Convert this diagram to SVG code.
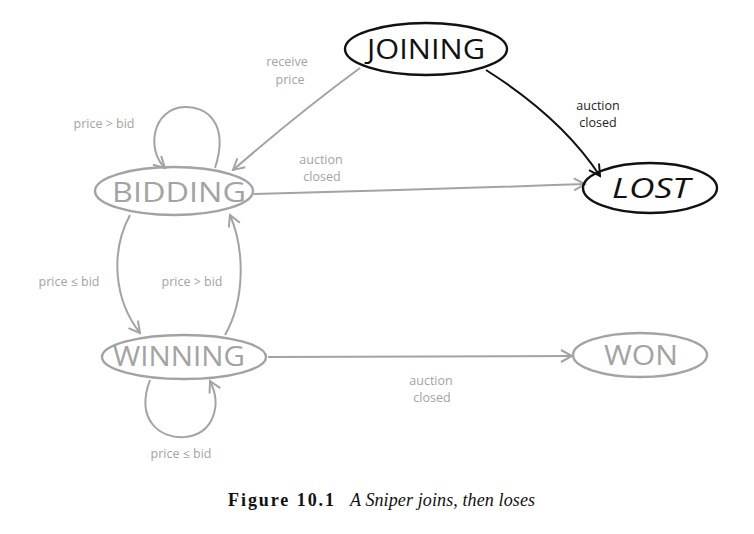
<svg xmlns="http://www.w3.org/2000/svg" width="754" height="534" viewBox="0 0 754 534">
<style>
.node{fill:none;stroke-width:2.4}
.gray{stroke:#a3a3a3}
.black{stroke:#111}
.nl{font-family:"Open Sans","DejaVu Sans",sans-serif;font-weight:400;font-size:28px;text-anchor:middle}
.nlg{fill:#a3a3a3}
.nlb{fill:#111}
.el{font-family:"Open Sans","DejaVu Sans",sans-serif;font-size:12.5px;fill:#a3a3a3;text-anchor:middle}
.elb{fill:#222}
.edge{fill:none;stroke-width:2}
.cap{font-family:"Liberation Serif","Times New Roman",serif;font-size:18px;fill:#111}
</style>
<defs>
<marker id="ag" markerWidth="14" markerHeight="14" refX="12" refY="7" orient="auto" markerUnits="userSpaceOnUse">
<path d="M1,1 L12,7 L1,13" fill="none" stroke="#a3a3a3" stroke-width="2"/>
</marker>
<marker id="ab" markerWidth="14" markerHeight="14" refX="12" refY="7" orient="auto" markerUnits="userSpaceOnUse">
<path d="M1,1 L12,7 L1,13" fill="none" stroke="#111" stroke-width="2"/>
</marker>
</defs>
<rect width="754" height="534" fill="#fff"/>
<g id="connectors">
<path class="edge gray" d="M360 68 Q300 112 233 170" marker-end="url(#ag)"/>
<path class="edge black" d="M486 70 Q562 118 600 176" marker-end="url(#ab)"/>
<path class="edge gray" d="M254 194 Q420 190 585 184" marker-end="url(#ag)"/>
<path class="edge gray" d="M268 357 Q420 356 572 356" marker-end="url(#ag)"/>
<path class="edge gray" d="M215 168 C230 122 205 106 185 107 C152 108 146 150 165 168" marker-end="url(#ag)"/>
<path class="edge gray" d="M130 215 C110 252 114 300 140 333" marker-end="url(#ag)"/>
<path class="edge gray" d="M225 335 C245 300 245 250 230 215" marker-end="url(#ag)"/>
<path class="edge gray" d="M150 380 C135 420 160 439 185 437 C214 434 222 405 210 381" marker-end="url(#ag)"/>
<text class="el" x="287" y="66">receive</text>
<text class="el" x="290" y="84">price</text>
<text class="el elb" x="598" y="110">auction</text>
<text class="el elb" x="598" y="127">closed</text>
<text class="el" x="321" y="164">auction</text>
<text class="el" x="322" y="181">closed</text>
<text class="el" x="104" y="128">price &gt; bid</text>
<text class="el" x="69" y="286">price ≤ bid</text>
<text class="el" x="192" y="286">price &gt; bid</text>
<text class="el" x="181" y="458">price ≤ bid</text>
<text class="el" x="431" y="385">auction</text>
<text class="el" x="432" y="402">closed</text>
</g>
<g id="joining">
<ellipse class="node black" cx="426" cy="49" rx="81" ry="26"/>
<text class="nl nlb" x="426" y="59" textLength="118" lengthAdjust="spacingAndGlyphs">JOINING</text>
</g>
<g id="lost">
<ellipse class="node black" cx="650" cy="188" rx="67" ry="25"/>
<text class="nl nlb" x="651" y="198" textLength="78" lengthAdjust="spacingAndGlyphs" font-style="italic">LOST</text>
</g>
<g id="bidding">
<ellipse class="node gray" cx="174" cy="191" rx="79" ry="24"/>
<text class="nl nlg" x="179" y="202" textLength="134" lengthAdjust="spacingAndGlyphs">BIDDING</text>
</g>
<g id="winning">
<ellipse class="node gray" cx="184" cy="357" rx="82" ry="22"/>
<text class="nl nlg" x="179" y="366" textLength="132" lengthAdjust="spacingAndGlyphs">WINNING</text>
</g>
<g id="won">
<ellipse class="node gray" cx="640" cy="355" rx="67" ry="22"/>
<text class="nl nlg" x="641" y="365" textLength="74" lengthAdjust="spacingAndGlyphs">WON</text>
</g>
<text class="cap" x="228" y="506"><tspan font-weight="bold" textLength="106" lengthAdjust="spacing">Figure 10.1</tspan><tspan x="350" font-style="italic" textLength="185" lengthAdjust="spacing">A Sniper joins, then loses</tspan></text>
</svg>
